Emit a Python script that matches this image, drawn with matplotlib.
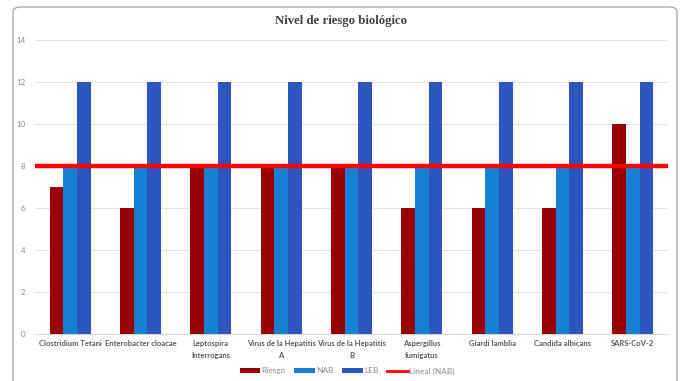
import matplotlib
matplotlib.use("Agg")
import matplotlib.pyplot as plt
import numpy as np
from matplotlib.patches import FancyBboxPatch, Patch
from matplotlib.lines import Line2D

categories = [
    "Clostridium Tetani", "Enterobacter cloacae", "Leptospira\nInterrogans",
    "Virus de la Hepatitis\nA", "Virus de la Hepatitis\nB", "Aspergillus\nfumigatus",
    "Giardi lamblia", "Candida albicans", "SARS-CoV-2",
]
riesgo = [7, 6, 8, 8, 8, 6, 6, 6, 10]
nab = [8, 8, 8, 8, 8, 8, 8, 8, 8]
leb = [12, 12, 12, 12, 12, 12, 12, 12, 12]
y_ticks = [0, 2, 4, 6, 8, 10, 12, 14]

c_riesgo = "#990000"
c_nab = "#1780D2"
c_leb = "#2C55BE"
c_line = "#FF0000"

W, H = 681, 381
fig = plt.figure(figsize=(W / 100, H / 100), dpi=100)
fig.patch.set_facecolor("white")

# rounded chart frame
frame = FancyBboxPatch((13 / W, -0.05), (677 - 13) / W, (H - 7) / H + 0.05,
                       boxstyle="round,pad=0,rounding_size=0.012",
                       transform=fig.transFigure, facecolor="white",
                       edgecolor="#A6A6A6", linewidth=0.9, zorder=-10)
fig.patches.append(frame)

ax = fig.add_axes([35 / W, 1 - 334 / H, (668 - 35) / W, (334 - 40) / H])
ax.set_facecolor("none")
ax.set_zorder(5)

x = np.arange(len(categories))
w = 0.195
ax.bar(x - w, riesgo, w, color=c_riesgo, zorder=3)
ax.bar(x, nab, w, color=c_nab, zorder=3)
ax.bar(x + w, leb, w, color=c_leb, zorder=3)

# linear trend of NAB across the full width
coef = np.polyfit(x, nab, 1)
xl = np.array([-0.5, len(categories) - 0.5])
ax.plot(xl, np.polyval(coef, xl), color=c_line, linewidth=3.2, zorder=4,
        solid_capstyle="butt")

ax.set_xlim(-0.5, len(categories) - 0.5)
ax.set_ylim(0, 14)
ax.set_yticks(y_ticks)
ax.yaxis.grid(True, color="#E3E3E3", linewidth=0.8, zorder=0)
ax.set_axisbelow(True)
for s in ["left", "right", "top"]:
    ax.spines[s].set_visible(False)
ax.spines["bottom"].set_color("#D9D9D9")
ax.spines["bottom"].set_linewidth(0.8)
ax.tick_params(axis="both", length=0)
ax.tick_params(axis="y", labelsize=5.8, labelcolor="#8C8C8C", pad=7)
ax.set_xticks(x)
ax.set_xticklabels(categories, fontsize=5.5, color="#595959",
                   fontfamily="Lato", fontweight="bold",
                   linespacing=1.9)
ax.tick_params(axis="x", pad=4)
for t in ax.get_yticklabels():
    t.set_fontfamily("Lato")

fig.text(341 / W, 1 - 21 / H, "Nivel de riesgo biológico", ha="center",
         va="center", fontsize=9.2, fontweight="bold",
         fontfamily="Liberation Serif", color="#404040")

handles = [
    Patch(facecolor=c_riesgo, label="Riesgo"),
    Patch(facecolor=c_nab, label="NAB"),
    Patch(facecolor=c_leb, label="LEB"),
    Line2D([0], [0], color=c_line, linewidth=2, label="Lineal (NAB)"),
]
fig.legend(handles=handles, loc="center", bbox_to_anchor=(347 / W, 1 - 371 / H),
           ncol=4, frameon=False, handlelength=2.5,
           handleheight=0.65, columnspacing=1.0, handletextpad=0.15,
           labelcolor="#8C8C8C", prop={"family": "Lato", "size": 6})

fig.savefig("out.png", dpi=100)
